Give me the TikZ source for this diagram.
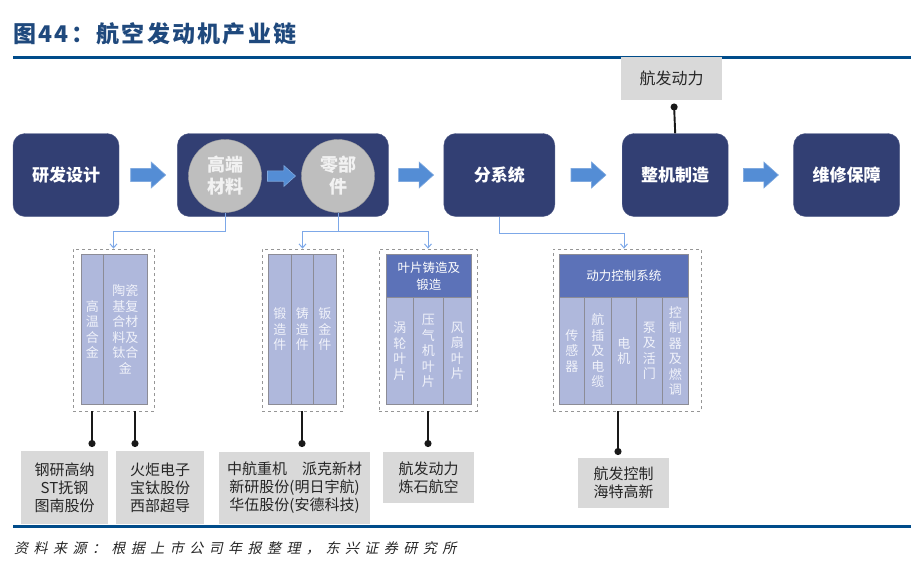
\documentclass[tikz,border=0pt]{standalone}
\usepackage{fontspec}
\setmainfont{Noto Sans CJK SC}
\newfontfamily\titlefont{Noto Sans CJK SC}[LetterSpace=10]
\newfontfamily\notefont{Noto Sans CJK SC}[FakeSlant=0.22,LetterSpace=39]
\usetikzlibrary{arrows.meta, positioning, calc}
\usepackage{xcolor}
\definecolor{navy}{RGB}{50,63,115}
\definecolor{flowblue}{RGB}{84,141,213}
\definecolor{hubgray}{RGB}{190,190,190}
\definecolor{colfill}{RGB}{175,184,220}
\definecolor{headfill}{RGB}{92,114,184}
\definecolor{colline}{RGB}{140,140,150}
\definecolor{coltext}{RGB}{240,242,250}
\definecolor{dashgray}{RGB}{150,150,150}
\definecolor{feedblue}{RGB}{125,168,232}
\definecolor{tagfill}{RGB}{217,217,217}
\definecolor{ruleblue}{RGB}{0,76,138}
\definecolor{titleblue}{RGB}{31,73,125}

% block arrow between two stages
\tikzset{flow/.pic={
  \fill[flowblue, draw=flowblue!75!white, line width=.6pt]
    (-17.5,-6.5) -- (3,-6.5) -- (3,-13) -- (17.5,0) -- (3,13) -- (3,6.5) -- (-17.5,6.5) -- cycle;
}}

\begin{document}
\begin{tikzpicture}[
    x=1pt, y=-1pt,
    stage/.style={rectangle, rounded corners=12pt, fill=navy, draw=navy!85!white, text=white,
                  minimum width=106pt, minimum height=83pt, inner sep=0,
                  font=\bfseries\fontsize{17}{20}\selectfont},
    hub/.style={circle, fill=hubgray, draw=hubgray!85!black, minimum size=73pt, inner sep=0,
                align=center, text=white!95!black, font=\bfseries\fontsize{18}{22}\selectfont},
    group/.style={rectangle, draw=dashgray, dashed, line width=.8pt, minimum height=162pt, inner sep=0},
    col/.style={rectangle, anchor=north west, fill=colfill, draw=colline, line width=.8pt,
                minimum height=150pt, inner sep=0, align=center, text=coltext,
                font=\fontsize{13}{15.5}\selectfont},
    sub col/.style={col, minimum height=107pt},
    head/.style={col, fill=headfill, minimum height=43pt, text=white,
                 font=\fontsize{12.5}{17}\selectfont},
    tag/.style={rectangle, fill=tagfill, inner sep=0, align=center, text=black!85,
                font=\fontsize{15}{18}\selectfont},
    feed/.style={draw=feedblue, line width=1pt, -{Straight Barb[length=4pt, width=7pt]}},
    tie/.style={draw=black!90, line width=1.9pt, -{Circle[length=7pt]}},
    rule/.style={draw=ruleblue, line width=3pt}
]
\useasboundingbox (0,0) rectangle (911,571);

% --- heading and rules ---
\node[anchor=west, inner sep=0, text=titleblue, font=\titlefont\bfseries\fontsize{23}{23}\selectfont]
    (title) at (13,34) {图44：航空发动机产业链};
\draw[rule] (13,57) -- (911,57);
\draw[rule] (13,526) -- (911,526);
\node[anchor=west, inner sep=0, text=black!85, font=\notefont\fontsize{14}{14}\selectfont]
    (note) at (14,548) {资料来源：根据上市公司年报整理，东兴证券研究所};

% --- main chain ---
\node[stage] (design) at (66,175) {研发设计};
\node[stage, minimum width=211pt, right=58pt of design] (chain) {};
\node[hub] (mat) at (225,176) {高端\\材料};
\node[hub] (part) at (338,176) {零部\\件};
\node[stage, minimum width=111pt, right=55pt of chain] (sub) {分系统};
\node[stage, right=67pt of sub] (assy) {整机制造};
\node[stage, right=65pt of assy] (maint) {维修保障};

\pic at ($(design.east)!.5!(chain.west)$) {flow};
\pic[scale=.8] at ($(mat.east)!.5!(part.west)$) {flow};
\pic at ($(chain.east)!.5!(sub.west)$) {flow};
\pic at ($(sub.east)!.5!(assy.west)$) {flow};
\pic at ($(assy.east)!.5!(maint.west)$) {flow};

% --- engine maker on top ---
\node[tag, minimum width=101pt, minimum height=43pt, font=\fontsize{16}{18}\selectfont]
    (power) at (671.5,78.5) {航发动力};
\coordinate (pd) at (674,103.5);
\draw[tie] (assy.north) -- (pd);

% --- materials ---
\node[group, minimum width=81pt] (matgrp) at (113.5,330) {};
\node[col, minimum width=22pt] (alloy) at (81,254) {高\\温\\合\\金};
\node[col, minimum width=44pt] (ceram) at (103,254) {陶瓷\\基复\\合材\\料及\\钛合\\金};

% --- parts ---
\node[group, minimum width=81pt] (forgegrp) at (302.5,330) {};
\node[col, minimum width=23pt] (forge) at (268,254) {锻\\造\\件};
\node[col, minimum width=22pt] (cast) at (291,254) {铸\\造\\件};
\node[col, minimum width=23pt] (sheet) at (313,254) {钣\\金\\件};

\node[group, minimum width=98pt] (bladegrp) at (428,330) {};
\node[head, minimum width=85pt] (bladehd) at (386,254) {叶片铸造及\\锻造};
\node[sub col, minimum width=27pt] (turb) at (386,297) {涡\\轮\\叶\\片};
\node[sub col, minimum width=30pt] (comp) at (413,297) {压\\气\\机\\叶\\片};
\node[sub col, minimum width=28pt] (fan) at (443,297) {风\\扇\\叶\\片};

% --- control system ---
\node[group, minimum width=148pt] (ctrlgrp) at (627,330) {};
\node[head, minimum width=129pt] (ctrlhd) at (559,254) {动力控制系统};
\node[sub col, minimum width=25pt] (sens) at (559,297) {传\\感\\器};
\node[sub col, minimum width=27pt] (cable) at (584,297) {航\\插\\及\\电\\缆};
\node[sub col, minimum width=25pt] (motor) at (611,297) {电\\机};
\node[sub col, minimum width=26pt] (pump) at (636,297) {泵\\及\\活\\门};
\node[sub col, minimum width=26pt] (fuel) at (662,297) {控\\制\\器\\及\\燃\\调};

% --- feeds from the chain ---
\draw[feed] (mat.south) -- ++(0,19) -| (matgrp.north);
\draw[draw=feedblue, line width=1pt] (part.south) -- ++(0,19) coordinate (split);
\draw[feed] (split) -| (forgegrp.north);
\draw[feed] (split) -| (bladegrp.north);
\draw[feed] (sub.south) -- ++(0,17) -| ([xshift=-3pt]ctrlgrp.north);

% --- listed companies ---
\node[tag, minimum width=87pt, minimum height=73pt] (co1) at (64.5,487.5) {钢研高纳\\ST抚钢\\图南股份};
\node[tag, minimum width=88pt, minimum height=73pt] (co2) at (160,487.5) {火炬电子\\宝钛股份\\西部超导};
\node[tag, minimum width=151pt, minimum height=72pt] (co3) at (294.5,488) {中航重机\hspace{1em}派克新材\\新研股份(明日宇航)\\华伍股份(安德科技)};
\node[tag, minimum width=91pt, minimum height=51pt] (co4) at (428.5,477.5) {航发动力\\炼石航空};
\node[tag, minimum width=91pt, minimum height=50pt] (co5) at (623.5,483) {航发控制\\海特高新};

\coordinate (d1) at (92,447);
\coordinate (d2) at (135,447);
\coordinate (d3) at (302,447);
\coordinate (d4) at (428,447);
\coordinate (d5) at (618,455);
\draw[tie] (d1 |- matgrp.south) -- (d1);
\draw[tie] (d2 |- matgrp.south) -- (d2);
\draw[tie] (d3 |- forgegrp.south) -- (d3);
\draw[tie] (d4 |- bladegrp.south) -- (d4);
\draw[tie] (d5 |- ctrlgrp.south) -- (d5);

\end{tikzpicture}
\end{document}
